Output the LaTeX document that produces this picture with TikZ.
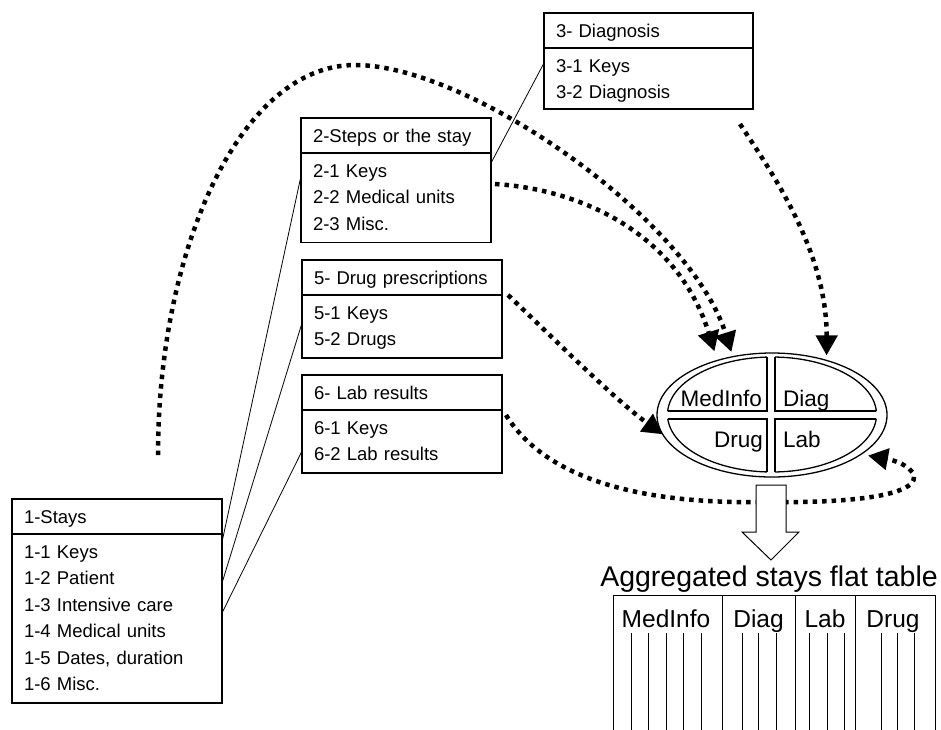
\documentclass[tikz,border=0pt]{standalone}
\usepackage{fontspec}
\setmainfont{Liberation Sans}
\usetikzlibrary{arrows.meta,positioning,shapes.geometric,calc}

\begin{document}
\begin{tikzpicture}[x=1pt, y=-1pt,
  head/.style={draw, line width=1.3pt, outer sep=0pt, inner xsep=12pt, inner ysep=0pt, align=left, font=\fontsize{18.5pt}{26.5pt}\selectfont, text height=24pt, text depth=11pt, anchor=north west},
  rows/.style={draw, line width=1.3pt, outer sep=0pt, inner xsep=12pt, inner ysep=0pt, align=left, font=\fontsize{18.5pt}{26.5pt}\selectfont, text height=24pt, text depth=#1},
  quad/.style={inner sep=0pt, font=\fontsize{22.5pt}{27pt}\selectfont},
  colhead/.style={inner sep=0pt, anchor=base, font=\fontsize{24.5pt}{29pt}\selectfont},
  link/.style={line width=0.8pt},
  dots/.style={line width=4.5pt, dash pattern=on 4.5pt off 5pt, -{Triangle[length=20pt,width=21pt]}}]
  \fill[white] (0,0) rectangle (941,729);
  \useasboundingbox (0,0) rectangle (941,729);

  \node (stays) [head, text width=186pt] at (12,499) {1-Stays};
  \node (staysrows) [rows=145pt, text width=186pt, below=0pt of stays] {1-1 Keys\\1-2 Patient\\1-3 Intensive care\\1-4 Medical units\\1-5 Dates, duration\\1-6 Misc.};
  \node (steps) [head, text width=166pt] at (301,118) {2-Steps or the stay};
  \node (stepsrows) [rows=65.5pt, text width=166pt, below=0pt of steps] {2-1 Keys\\2-2 Medical units\\2-3 Misc.};
  \node (diag) [head, text width=185pt] at (544,13) {3- Diagnosis};
  \node (diagrows) [rows=37pt, text width=185pt, below=0pt of diag] {3-1 Keys\\3-2 Diagnosis};
  \node (drug) [head, text width=176pt] at (302,260) {5- Drug prescriptions};
  \node (drugrows) [rows=39pt, text width=176pt, below=0pt of drug] {5-1 Keys\\5-2 Drugs};
  \node (lab) [head, text width=176pt] at (302,375) {6- Lab results};
  \node (labrows) [rows=39pt, text width=176pt, below=0pt of lab] {6-1 Keys\\6-2 Lab results};

  \draw[link] ([yshift=-8pt]staysrows.north east) -- ([yshift=-23pt]stepsrows.north west);
  \draw[link] ([yshift=-49pt]staysrows.north east) -- ([yshift=-28pt]drugrows.north west);
  \draw[link] ([yshift=-79pt]staysrows.north east) -- ([yshift=-41pt]labrows.north west);
  \draw[link] ([yshift=-10pt]stepsrows.north east) -- ([yshift=-15pt]diagrows.north west);

  \node (hub) [ellipse, draw, line width=1.3pt, minimum width=230pt, minimum height=124pt, inner sep=0pt, outer sep=0pt] at (772,415) {};
  \draw[line width=1.3pt] (772,414.5) ellipse [x radius=104.5pt, y radius=57.5pt];
  \begin{scope}
    \clip (772,414.5) ellipse [x radius=109.5pt, y radius=60pt];
    \fill[white] (767,330) rectangle (775,500);
    \fill[white] (640,411) rectangle (900,419);
  \end{scope}
  \begin{scope}
    \clip (772,414.5) ellipse [x radius=104.5pt, y radius=57.5pt];
    \draw[line width=1.3pt] (767,340) |- (650,411);
    \draw[line width=1.3pt] (775,340) |- (900,411);
    \draw[line width=1.3pt] (767,490) |- (650,419);
    \draw[line width=1.3pt] (775,490) |- (900,419);
  \end{scope}
  \node (medlbl) [quad, anchor=base east] at (762,406) {MedInfo};
  \node (diaglbl) [quad, anchor=base west] at (783,406) {Diag};
  \node (druglbl) [quad, anchor=base east] at (763,447) {Drug};
  \node (lablbl) [quad, anchor=base west] at (783,447) {Lab};

  \coordinate (tail) at (158,455);
  \draw[dots] (tail) .. controls (158,250) and (240,65) .. (355,65) .. controls (470,65) and (690,220) .. ([yshift=5pt]hub.125);
  \draw[dots] ([xshift=4pt,yshift=-31pt]stepsrows.north east) .. controls (590,190) and (680,240) .. ([yshift=10pt]hub.137);
  \draw[dots] ([xshift=-13pt,yshift=-15pt]diagrows.south east) .. controls (770,170) and (827,250) .. ([yshift=5pt]hub.45);
  \draw[dots] ([xshift=6pt]drugrows.north east) .. controls (545,330) and (615,400) .. (hub.190);
  \draw[dots] ([xshift=4pt,yshift=-5pt]labrows.north east) .. controls (540,470) and (620,504) .. (760,502) .. controls (960,505) and (920,465) .. ([xshift=9pt]hub.335);

  \draw[line width=1pt, fill=white] (756,485) -- (786,485) -- (786,532) -- (799,532) -- (771,560) -- (742,532) -- (756,532) -- cycle;

  \node (flat) [inner sep=0pt, anchor=base, font=\fontsize{28.5pt}{34pt}\selectfont] at (769,586) {Aggregated stays flat table};
  \draw[line width=1pt] (613,740) |- (935,595) -- (935,740);
  \foreach \x in {722,795,855}
    \draw[line width=1pt] (\x,595) -- (\x,740);
  \node (colmed) [colhead] at (666,627) {MedInfo};
  \node (coldiag) [colhead] at (758.5,627) {Diag};
  \node (collab) [colhead] at (825,627) {Lab};
  \node (coldrug) [colhead] at (893,627) {Drug};
  \foreach \x in {631,648,666,683,701,742,758,776,809,827,844,881,897,914}
    \draw[line width=0.9pt] (\x,633) -- (\x,740);
\end{tikzpicture}
\end{document}
